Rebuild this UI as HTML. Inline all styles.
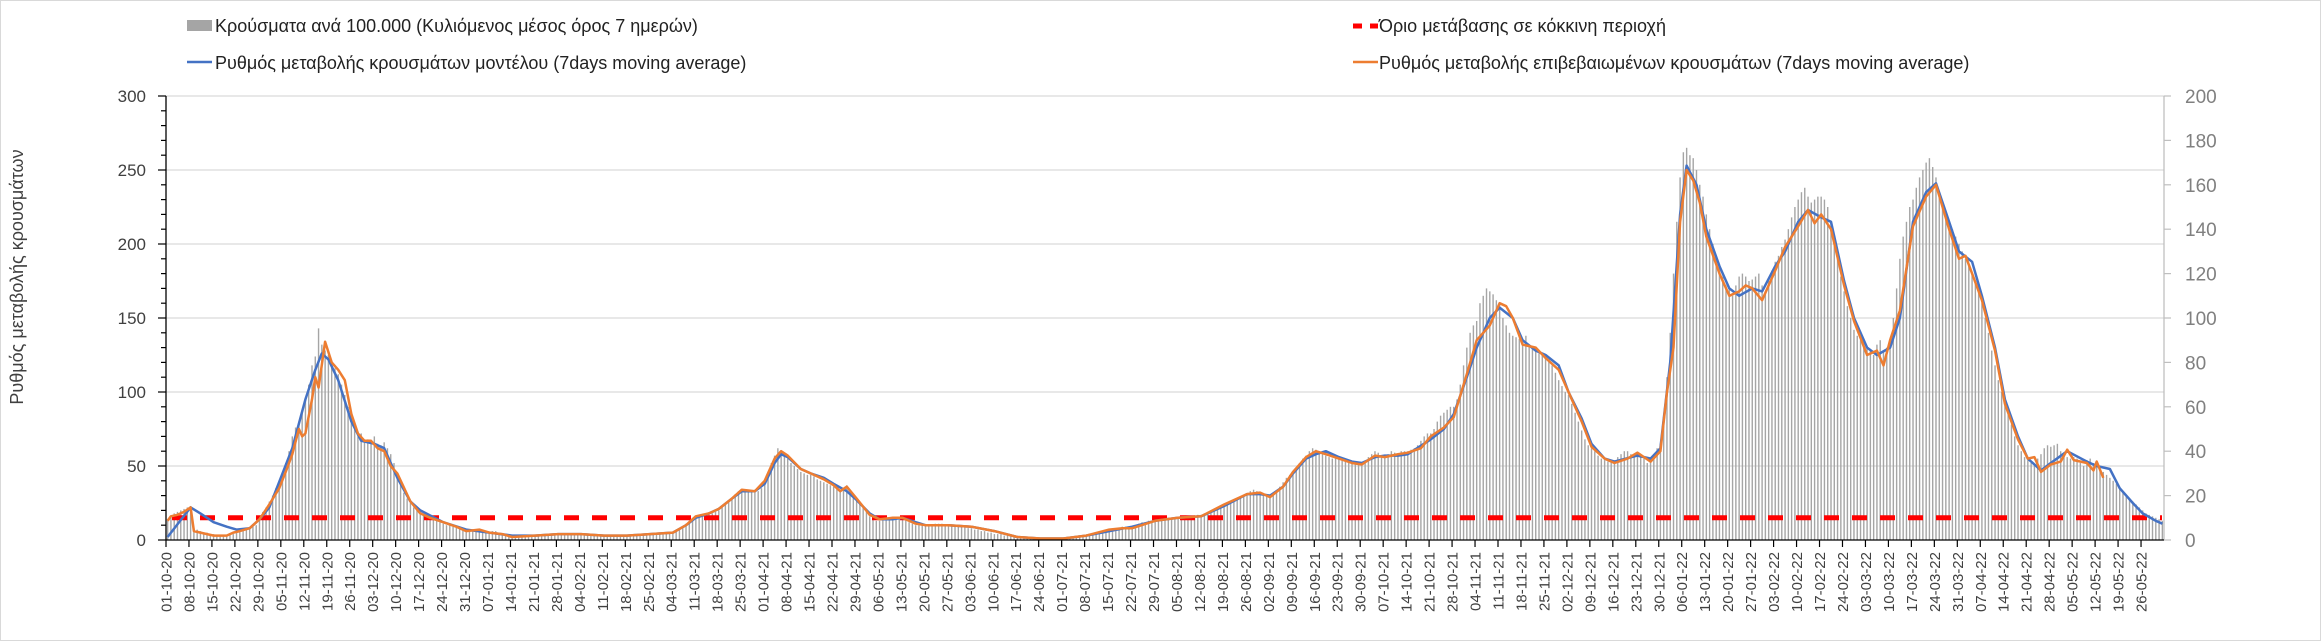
<!DOCTYPE html>
<html><head><meta charset="utf-8">
<style>
html,body{margin:0;padding:0;background:#fff;}
svg{display:block;font-family:"Liberation Sans",sans-serif;}
</style></head>
<body>
<svg id="chart" width="2321" height="641" viewBox="0 0 2321 641" xmlns="http://www.w3.org/2000/svg">
<rect x="0.5" y="0.5" width="2320" height="640" fill="#fff" stroke="#d9d9d9"/>
<g id="grid"></g>
<g id="bars"></g>
<g id="thr"></g>
<g id="lines"></g>
<g id="axes"></g>
<text x="0" y="0" transform="translate(23,277) rotate(-90)" text-anchor="middle" font-size="18" fill="#404040">Ρυθμός μεταβολής κρουσμάτων</text>
<g>
  <g>
    <rect x="187" y="20" width="25" height="11" fill="#a5a5a5"/>
    <text x="215" y="32" font-size="18" fill="#222">Κρούσματα ανά 100.000 (Κυλιόμενος μέσος όρος 7 ημερών)</text>
  </g>
  <g>
    <line x1="187" y1="62" x2="212" y2="62" stroke="#4472c4" stroke-width="2.5"/>
    <text x="215" y="69" font-size="18" fill="#222">Ρυθμός μεταβολής κρουσμάτων μοντέλου (7days moving average)</text>
  </g>
  <g>
    <line x1="1353" y1="26" x2="1378" y2="26" stroke="#ff0000" stroke-width="5" stroke-dasharray="9 8"/>
    <text x="1379" y="32" font-size="18" fill="#222">Όριο μετάβασης σε κόκκινη περιοχή</text>
  </g>
  <g>
    <line x1="1353" y1="62" x2="1378" y2="62" stroke="#ed7d31" stroke-width="2.5"/>
    <text x="1379" y="69" font-size="18" fill="#222">Ρυθμός μεταβολής επιβεβαιωμένων κρουσμάτων (7days moving average)</text>
  </g>
</g>
</svg>
<script>
const dateLabels = ["01-10-20","08-10-20","15-10-20","22-10-20","29-10-20","05-11-20","12-11-20","19-11-20","26-11-20","03-12-20","10-12-20","17-12-20","24-12-20","31-12-20","07-01-21","14-01-21","21-01-21","28-01-21","04-02-21","11-02-21","18-02-21","25-02-21","04-03-21","11-03-21","18-03-21","25-03-21","01-04-21","08-04-21","15-04-21","22-04-21","29-04-21","06-05-21","13-05-21","20-05-21","27-05-21","03-06-21","10-06-21","17-06-21","24-06-21","01-07-21","08-07-21","15-07-21","22-07-21","29-07-21","05-08-21","12-08-21","19-08-21","26-08-21","02-09-21","09-09-21","16-09-21","23-09-21","30-09-21","07-10-21","14-10-21","21-10-21","28-10-21","04-11-21","11-11-21","18-11-21","25-11-21","02-12-21","09-12-21","16-12-21","23-12-21","30-12-21","06-01-22","13-01-22","20-01-22","27-01-22","03-02-22","10-02-22","17-02-22","24-02-22","03-03-22","10-03-22","17-03-22","24-03-22","31-03-22","07-04-22","14-04-22","21-04-22","28-04-22","05-05-22","12-05-22","19-05-22","26-05-22"];
const leftTicks = [0,50,100,150,200,250,300];
const rightTicks = [0,20,40,60,80,100,120,140,160,180,200];
const threshold = 15;
const barVals = [
14,16,18,19,20,21,22, 23,8,7,6,5,5,4, 4,3,3,3,3,4,4, 6,6,7,7,8,9,10,
16,19,22,26,30,35,40, 45,52,60,70,76,80,88, 95,105,118,124,143,132,128, 125,120,116,112,105,98,90,
82,76,70,72,66,68,65, 70,65,64,66,62,58,52, 44,38,32,28,25,22,20, 18,17,16,15,14,13,12,
11,10,10,9,9,8,8, 7,6,6,6,6,6,5, 5,6,6,5,4,4,3, 3,3,3,3,3,3,3,
3,3,3,4,4,4,4, 4,4,4,4,4,4,4, 4,4,4,4,4,3,3, 3,3,3,3,3,3,3,
3,3,3,3,3,3,4, 4,4,4,4,4,5,5, 5,6,7,9,11,13,14, 15,16,17,17,18,18,19,
20,22,24,26,28,31,33, 34,34,33,33,34,33,35, 38,45,52,57,62,59,57, 55,52,50,48,46,45,44,
44,43,41,40,39,38,37, 36,35,33,34,37,34,30, 28,25,22,19,16,14,13, 13,14,14,15,15,15,15,
15,14,12,11,10,10,10, 10,10,10,11,11,11,10, 10,10,10,9,9,9,8, 8,7,7,6,6,5,5,
4,4,4,3,3,3,2, 2,2,2,2,2,1,1, 1,1,1,1,1,1,1, 1,1,2,2,2,3,3,
3,4,4,5,5,6,6, 7,7,8,8,9,9,9, 9,10,11,12,12,13,13, 13,14,14,14,15,15,15,
15,15,15,16,16,16,17, 17,18,19,20,21,22,22, 23,24,26,27,28,29,30, 31,33,34,33,32,31,30,
30,31,33,36,39,42,44, 46,49,52,55,57,60,62, 61,60,58,57,56,55,55, 55,54,53,52,52,52,52,
52,53,56,58,60,59,57, 57,58,60,59,58,60,60, 60,61,62,64,67,70,72, 72,75,80,84,86,88,90,
90,95,105,118,130,140,145, 148,160,165,170,168,166,162, 160,150,145,140,138,137,136, 135,138,132,130,128,126,125,
124,122,118,113,108,104,100, 98,92,86,80,74,68,64, 62,60,57,55,54,53,53, 53,56,58,60,60,58,57,
57,56,55,52,55,58,62, 65,80,110,140,180,215,245, 262,265,260,258,250,240,232, 220,210,200,192,185,178,172,
170,165,172,178,180,178,175, 176,178,180,172,168,175,182, 188,192,198,203,210,218,225, 230,235,238,232,228,230,232,
232,230,225,215,205,190,178, 168,158,150,142,138,135,132, 130,128,125,132,135,128,130, 135,150,170,190,205,215,225,
230,238,245,250,255,258,252, 245,235,225,218,210,210,205, 200,195,190,185,180,175,168, 160,150,140,128,118,108,100,
92,85,78,70,64,60,56, 54,52,50,55,58,62,64, 63,64,65,60,58,56,55, 56,55,52,50,54,55,52,
50,48,46,44,42,40,38, 35,32,30,28,26,24,22, 20,18,17,16,15,14,13
];
const blueDays = [0,7,10,14,18,21,25,28,31,35,38,42,45,47,49,52,56,59,63,66,70,74,77,84,91,98,105,112,119,126,133,140,147,154,158,161,165,168,172,175,179,182,185,187,189,193,196,200,203,207,210,214,217,221,224,228,231,238,245,252,259,266,273,280,287,294,301,308,315,322,329,333,336,340,343,347,350,353,357,361,364,368,371,375,378,385,389,392,396,399,403,406,410,413,417,420,424,427,431,434,438,441,448,452,455,458,461,463,466,469,473,476,479,483,486,490,493,497,500,504,507,511,514,518,521,525,528,532,536,539,543,546,550,553,557,560,564,567,571,574,579,585,588,592,595,599,602,606,608];
const blueVals = [2,22,18,12,9,7,8,14,22,45,62,95,115,126,122,108,80,67,65,62,42,26,20,12,7,5,3,3,4,4,3,3,4,5,10,15,18,21,28,33,33,38,52,58,56,48,45,42,38,33,27,18,14,14,15,12,10,10,9,6,2,1,1,3,6,9,13,15,16,23,31,31,30,36,45,55,58,60,56,53,52,56,57,57,58,68,75,85,110,130,150,157,150,135,128,125,118,100,82,65,55,53,57,55,62,120,220,253,240,210,185,170,165,170,168,185,195,215,223,218,215,175,150,130,125,130,150,215,235,241,215,195,188,165,130,95,70,55,47,52,60,53,50,48,35,25,18,13,11];
const orangeDays = [0,1,3,5,7,8,10,14,18,20,22,25,28,31,34,36,38,40,41,42,44,45,46,48,50,52,54,56,58,60,62,64,66,68,70,74,77,80,84,88,91,95,98,102,105,112,119,126,133,140,147,154,158,161,165,168,172,175,179,182,185,187,189,193,196,200,203,205,207,210,214,217,221,224,228,231,238,245,252,259,266,273,280,287,291,294,301,308,315,322,329,333,336,340,343,347,350,353,357,361,364,368,371,375,378,382,385,389,392,396,399,403,406,408,410,413,417,420,424,427,431,434,438,441,445,448,452,455,457,459,461,463,465,467,469,473,476,479,481,483,486,490,493,497,500,502,504,507,511,514,518,521,523,525,528,532,536,539,543,546,548,550,553,557,560,564,567,569,571,574,577,579,581,585,587,588,590];
const orangeVals = [13,16,17,19,22,6,5,3,3,5,6,8,14,24,35,46,58,75,70,72,95,110,103,134,120,115,108,85,72,67,67,62,60,50,45,26,18,15,12,9,6,7,5,4,2,3,4,4,3,3,4,5,10,16,18,21,28,34,33,40,55,60,57,48,45,41,37,33,36,28,17,14,15,15,11,10,10,9,6,2,1,1,3,7,8,8,13,15,16,24,31,32,29,36,46,56,60,58,55,52,51,57,56,58,59,62,70,76,83,112,135,145,160,158,150,132,130,123,115,100,80,63,55,52,55,59,53,60,100,130,215,250,243,228,205,180,165,168,172,170,162,182,198,212,223,214,220,210,172,148,125,128,118,135,155,212,232,240,210,190,192,180,162,128,92,68,55,56,46,51,53,61,54,52,47,53,42];

const NS = "http://www.w3.org/2000/svg";
const X0 = 166, X1 = 2164, Y0 = 540, YTOP = 96;
const NDAYS = 609;
const LMAX = 300, RMAX = 200;
function xDay(d){ return X0 + d * (X1 - X0) / NDAYS; }
function yL(v){ return Y0 - v * (Y0 - YTOP) / LMAX; }
function yR(v){ return Y0 - v * (Y0 - YTOP) / RMAX; }
function mk(tag, attrs, parent){
  const e = document.createElementNS(NS, tag);
  for (const k in attrs) e.setAttribute(k, attrs[k]);
  parent.appendChild(e);
  return e;
}
const grid = document.getElementById('grid');
const bars = document.getElementById('bars');
const thr = document.getElementById('thr');
const lines = document.getElementById('lines');
const axes = document.getElementById('axes');

// gridlines
leftTicks.forEach(function(t){
  if (t === 0) return;
  const g = mk('line', {x1:X0, x2:X1, y1:yL(t), y2:yL(t), stroke:'#d9d9d9', 'stroke-width':1.3}, grid);
  
  
});

// bars
barVals.forEach(function(v, i){
  const cx = xDay(i + 0.5);
  const b = mk('rect', {x:cx - 0.7, y:yL(v), width:1.4, height:Y0 - yL(v), fill:'#a5a5a5'}, bars);
  
  
});

// threshold
const tl = mk('line', {x1:X0 + 6, x2:X1 - 2, y1:yL(threshold), y2:yL(threshold), stroke:'#ff0000', 'stroke-width':5, 'stroke-dasharray':'15 13'}, thr);



function pathFrom(days, vals){
  let d = '';
  days.forEach(function(day, i){
    d += (i ? 'L' : 'M') + xDay(day + 0.5).toFixed(1) + ',' + yL(vals[i]).toFixed(1);
  });
  return d;
}
const bl = mk('path', {d:pathFrom(blueDays, blueVals), fill:'none', stroke:'#4472c4', 'stroke-width':2.5, 'stroke-linejoin':'round'}, lines);


const ol = mk('path', {d:pathFrom(orangeDays, orangeVals), fill:'none', stroke:'#ed7d31', 'stroke-width':2.5, 'stroke-linejoin':'round'}, lines);



// left axis
const la = mk('line', {x1:X0, x2:X0, y1:YTOP, y2:Y0, stroke:'#000', 'stroke-width':1.3}, axes);


for (let v = 0; v <= LMAX; v += 10) {
  const major = v % 50 === 0;
  const tk = mk('line', {x1:major ? X0 - 8 : X0 - 5, x2:X0, y1:yL(v), y2:yL(v), stroke:'#000', 'stroke-width':1.2}, axes);
  
  
}
leftTicks.forEach(function(t){
  const tx = mk('text', {x:146, y:yL(t) + 6, 'text-anchor':'end', 'font-size':17, fill:'#404040'}, axes);
  tx.textContent = String(t);
  
  
});
// right axis
const ra = mk('line', {x1:X1, x2:X1, y1:YTOP, y2:Y0, stroke:'#bfbfbf', 'stroke-width':1.3}, axes);


rightTicks.forEach(function(t){
  const tk = mk('line', {x1:X1, x2:X1 + 7, y1:yR(t), y2:yR(t), stroke:'#bfbfbf', 'stroke-width':1.2}, axes);
  
  
  const tx = mk('text', {x:X1 + 21, y:yR(t) + 7, 'font-size':19, fill:'#808080'}, axes);
  tx.textContent = String(t);
  
  
});
// x axis
const xa = mk('line', {x1:X0, x2:X1, y1:Y0, y2:Y0, stroke:'#000', 'stroke-width':1.3}, axes);


dateLabels.forEach(function(lab, k){
  const x = xDay(k * 7);
  const tk = mk('line', {x1:x, x2:x, y1:Y0, y2:Y0 + 7, stroke:'#000', 'stroke-width':1.2}, axes);
  
  
  const tx = mk('text', {x:0, y:0, transform:'translate(' + (x + 5.5).toFixed(1) + ',552) rotate(-90)', 'text-anchor':'end', 'font-size':15, fill:'#404040'}, axes);
  tx.textContent = lab;
  
  
});
</script>
</body></html>
